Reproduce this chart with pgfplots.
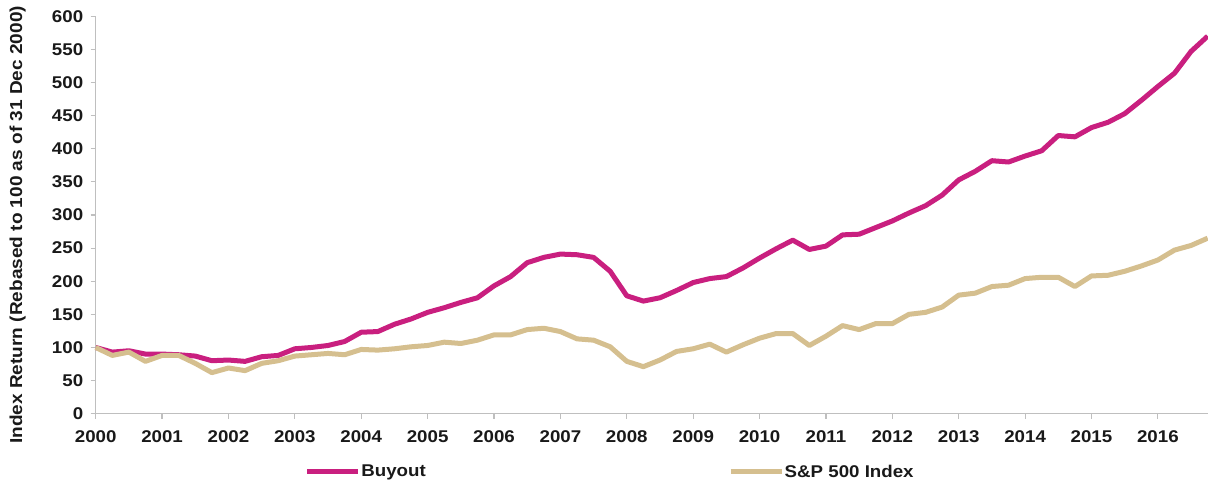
\documentclass[border=0pt]{standalone}
\usepackage{fontspec}
\setmainfont[FakeStretch=1.1]{Liberation Sans}
\usepackage{pgfplots}
\pgfplotsset{compat=1.18}
\usepackage{pgfplotstable}
\definecolor{buyout}{HTML}{C91F7F}
\definecolor{spx}{HTML}{D5BF8F}
\definecolor{axgray}{HTML}{BFBFBF}
\pgfplotstableread{
x y
2000.00 100
2000.25 93
2000.50 95
2000.75 90
2001.00 90
2001.25 89
2001.50 87
2001.75 80
2002.00 81
2002.25 79
2002.50 86
2002.75 88
2003.00 98
2003.25 100
2003.50 103
2003.75 109
2004.00 123
2004.25 124
2004.50 135
2004.75 143
2005.00 153
2005.25 160
2005.50 168
2005.75 175
2006.00 193
2006.25 207
2006.50 228
2006.75 236
2007.00 241
2007.25 240
2007.50 236
2007.75 215
2008.00 178
2008.25 170
2008.50 175
2008.75 186
2009.00 198
2009.25 204
2009.50 207
2009.75 220
2010.00 235
2010.25 249
2010.50 262
2010.75 248
2011.00 253
2011.25 270
2011.50 271
2011.75 281
2012.00 291
2012.25 303
2012.50 314
2012.75 330
2013.00 353
2013.25 366
2013.50 382
2013.75 380
2014.00 389
2014.25 397
2014.50 420
2014.75 418
2015.00 432
2015.25 440
2015.50 453
2015.75 473
2016.00 494
2016.25 514
2016.50 547
2016.75 570
}\buyouttab
\pgfplotstableread{
x y
2000.00 100
2000.25 88
2000.50 93
2000.75 79
2001.00 88
2001.25 88
2001.50 76
2001.75 62
2002.00 69
2002.25 65
2002.50 76
2002.75 80
2003.00 87
2003.25 89
2003.50 91
2003.75 89
2004.00 97
2004.25 96
2004.50 98
2004.75 101
2005.00 103
2005.25 108
2005.50 106
2005.75 111
2006.00 119
2006.25 119
2006.50 127
2006.75 129
2007.00 124
2007.25 113
2007.50 111
2007.75 101
2008.00 79
2008.25 71
2008.50 81
2008.75 94
2009.00 98
2009.25 105
2009.50 93
2009.75 104
2010.00 114
2010.25 121
2010.50 121
2010.75 103
2011.00 117
2011.25 133
2011.50 127
2011.75 136
2012.00 136
2012.25 150
2012.50 153
2012.75 161
2013.00 179
2013.25 182
2013.50 192
2013.75 194
2014.00 204
2014.25 206
2014.50 206
2014.75 192
2015.00 208
2015.25 209
2015.50 215
2015.75 223
2016.00 232
2016.25 247
2016.50 254
2016.75 265
}\spxtab
\begin{document}
\begin{tikzpicture}
\path[use as bounding box] (-95.7pt,-67.3pt) rectangle (1112.3pt,413.7pt);
\begin{axis}[
  at={(0,0)}, anchor=south west,
  scale only axis, width=1112pt, height=397.4pt,
  xmin=2000, xmax=2016.75, ymin=0, ymax=600,
  axis x line*=bottom, axis y line*=left,
  axis line style={draw=axgray, line width=1.2pt, -},
  xtick={2000,2001,...,2016}, ytick={0,50,...,600},
  tick style={draw=axgray, line width=1.2pt},
  tick align=outside, major tick length=5pt,
  /pgf/number format/assume math mode=true,
  ticklabel style={font=\fontsize{17}{17}\selectfont\bfseries, text=black!90},
  xticklabel style={/pgf/number format/1000 sep={}, yshift=-8pt},
  yticklabel style={/pgf/number format/1000 sep={}, xshift=-4pt},
  ylabel={Index Return (Rebased to 100 as of 31 Dec 2000)},
  every axis y label/.style={at={(axis description cs:-0.0702,0.475)}, rotate=90, anchor=center, font=\fontsize{17.3}{17.3}\selectfont\bfseries, text=black!90},
  legend style={at={(axis description cs:0.1879,-0.146)}, anchor=west, draw=none, fill=none,
    inner sep=0pt, font=\fontsize{17}{17}\selectfont\bfseries, text=black!90,
    nodes={inner sep=0.5pt},
    /tikz/every even column/.append style={column sep=302pt}},
  legend columns=2,
  legend image code/.code={\draw[#1] (0pt,0pt) -- (51pt,0pt);},
  clip=false,
]
\addplot[buyout, line width=5pt, line join=round] table[x=x,y=y] {\buyouttab};
\addlegendentry{Buyout}
\addplot[spx, line width=5pt, line join=round] table[x=x,y=y] {\spxtab};
\addlegendentry{S\&P 500 Index}
\end{axis}
\end{tikzpicture}
\end{document}
